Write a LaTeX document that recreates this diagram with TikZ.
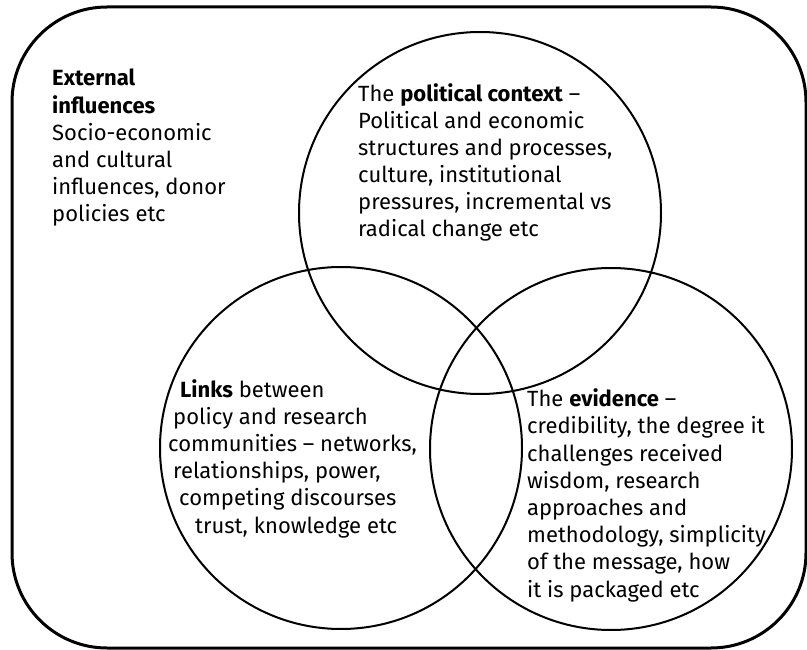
\documentclass[tikz,border=0pt]{standalone}
\usepackage{fontspec}
\setmainfont{Fira Sans}
\begin{document}
\begin{tikzpicture}[x=1pt,y=-1pt,
    bubble/.style={circle,draw,line width=2pt,minimum size=362pt,inner sep=0pt},
    blurb/.style={anchor=base west,align=left,inner sep=0pt,font=\fontsize{22}{27.2}\selectfont}]
    \useasboundingbox (0,0) rectangle (807,650);
    % Frame
    \draw[line width=3pt,rounded corners=95pt] (12,7) rectangle (806,648);
    % Circles
    \node[bubble] (politics) at (480,213) {};
    \node[bubble] (links) at (341,448) {};
    \node[bubble] (evidence) at (611,449) {};
    % Texts (placed by the baseline of their last line)
    \node[blurb] (external) at (52,222) {\textbf{External}\\\textbf{influences}\\Socio-economic\\and cultural\\influences, donor\\policies etc};
    \node[blurb] (politicstext) at (358,237) {The \textbf{political context} --\\Political and economic\\structures and processes,\\culture, institutional\\pressures, incremental vs\\radical change etc};
    \node[blurb] (linkstext) at (168,533) {\hspace*{12pt}\textbf{Links} between\\\hspace*{5pt}policy and research\\communities -- networks,\\\hspace*{5pt}relationships, power,\\\hspace*{11pt}competing discourses\\\hspace*{27pt}trust, knowledge etc};
    \node[blurb] (evidencetext) at (527,597) {The \textbf{evidence} --\\credibility, the degree it\\challenges received\\wisdom, research\\approaches and\\methodology, simplicity\\of the message, how\\it is packaged etc};
\end{tikzpicture}
\end{document}
